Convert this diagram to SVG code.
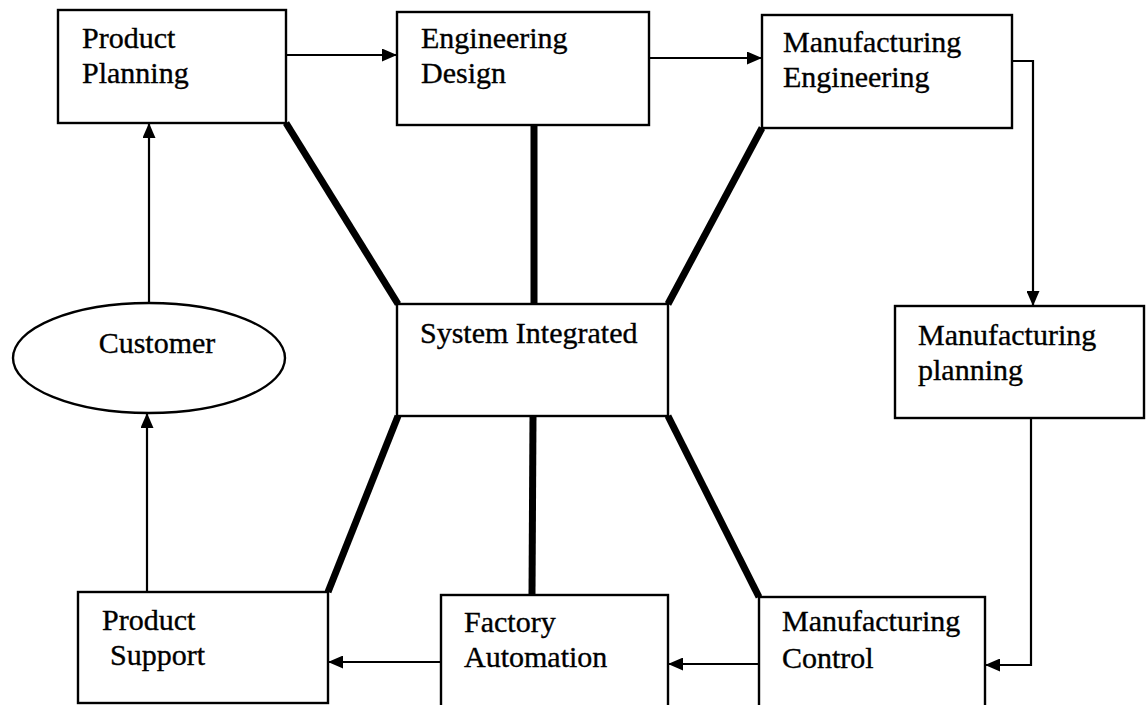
<svg xmlns="http://www.w3.org/2000/svg" width="1146" height="705" viewBox="0 0 1146 705">
<defs>
<marker id="ah" viewBox="0 0 15 13" refX="15" refY="6.5" markerWidth="15" markerHeight="13" markerUnits="userSpaceOnUse" orient="auto">
<path d="M0,0 L15,6.5 L0,13 Z" fill="#000"/>
</marker>
</defs>
<style>
.box{fill:#fff;stroke:#000;stroke-width:2.4}
.t{font-family:"Liberation Serif","Times New Roman",serif;font-size:30px;fill:#000;stroke:#000;stroke-width:0.35}
.thick{stroke:#000;stroke-width:7;fill:none;stroke-linecap:butt}
.arr{stroke:#000;stroke-width:2.2;fill:none;marker-end:url(#ah)}
</style>
<rect width="1146" height="705" fill="#fff"/>
<g id="connectors">
<line class="thick" x1="286" y1="123" x2="398" y2="304"/>
<line class="thick" x1="534" y1="125" x2="534" y2="304"/>
<line class="thick" x1="762" y1="128" x2="668" y2="304"/>
<line class="thick" x1="398" y1="416" x2="328" y2="592"/>
<line class="thick" x1="533" y1="416" x2="532" y2="595"/>
<line class="thick" x1="668" y1="416" x2="759" y2="597"/>
<path class="arr" d="M286,55 H397"/>
<path class="arr" d="M649,58 H762"/>
<path class="arr" d="M1012,61 H1033 V306"/>
<path class="arr" d="M1031,418 V665 H985"/>
<path class="arr" d="M759,664 H668"/>
<path class="arr" d="M441,662 H328"/>
<path class="arr" d="M147,592 V413"/>
<path class="arr" d="M149,303 V123"/>
</g>
<g id="product-planning">
<rect class="box" x="58" y="10" width="228" height="113"/>
<text class="t" x="82" y="48">Product</text>
<text class="t" x="82" y="83">Planning</text>
</g>
<g id="engineering-design">
<rect class="box" x="397" y="12" width="252" height="113"/>
<text class="t" x="421" y="48">Engineering</text>
<text class="t" x="421" y="83">Design</text>
</g>
<g id="manufacturing-engineering">
<rect class="box" x="762" y="15" width="250" height="113"/>
<text class="t" x="783" y="52">Manufacturing</text>
<text class="t" x="783" y="87">Engineering</text>
</g>
<g id="manufacturing-planning">
<rect class="box" x="895" y="306" width="249" height="112"/>
<text class="t" x="918" y="345">Manufacturing</text>
<text class="t" x="918" y="380">planning</text>
</g>
<g id="system-integrated">
<rect class="box" x="397" y="304" width="271" height="112"/>
<text class="t" x="420" y="343">System Integrated</text>
</g>
<g id="customer">
<ellipse class="box" cx="149" cy="358" rx="136" ry="55"/>
<text class="t" x="157" y="353" text-anchor="middle">Customer</text>
</g>
<g id="product-support">
<rect class="box" x="78" y="592" width="250" height="111"/>
<text class="t" x="102" y="630">Product</text>
<text class="t" x="110" y="665">Support</text>
</g>
<g id="factory-automation">
<rect class="box" x="441" y="595" width="227" height="115"/>
<text class="t" x="464" y="632">Factory</text>
<text class="t" x="464" y="667">Automation</text>
</g>
<g id="manufacturing-control">
<rect class="box" x="759" y="597" width="226" height="115"/>
<text class="t" x="782" y="631">Manufacturing</text>
<text class="t" x="782" y="668">Control</text>
</g>
</svg>
